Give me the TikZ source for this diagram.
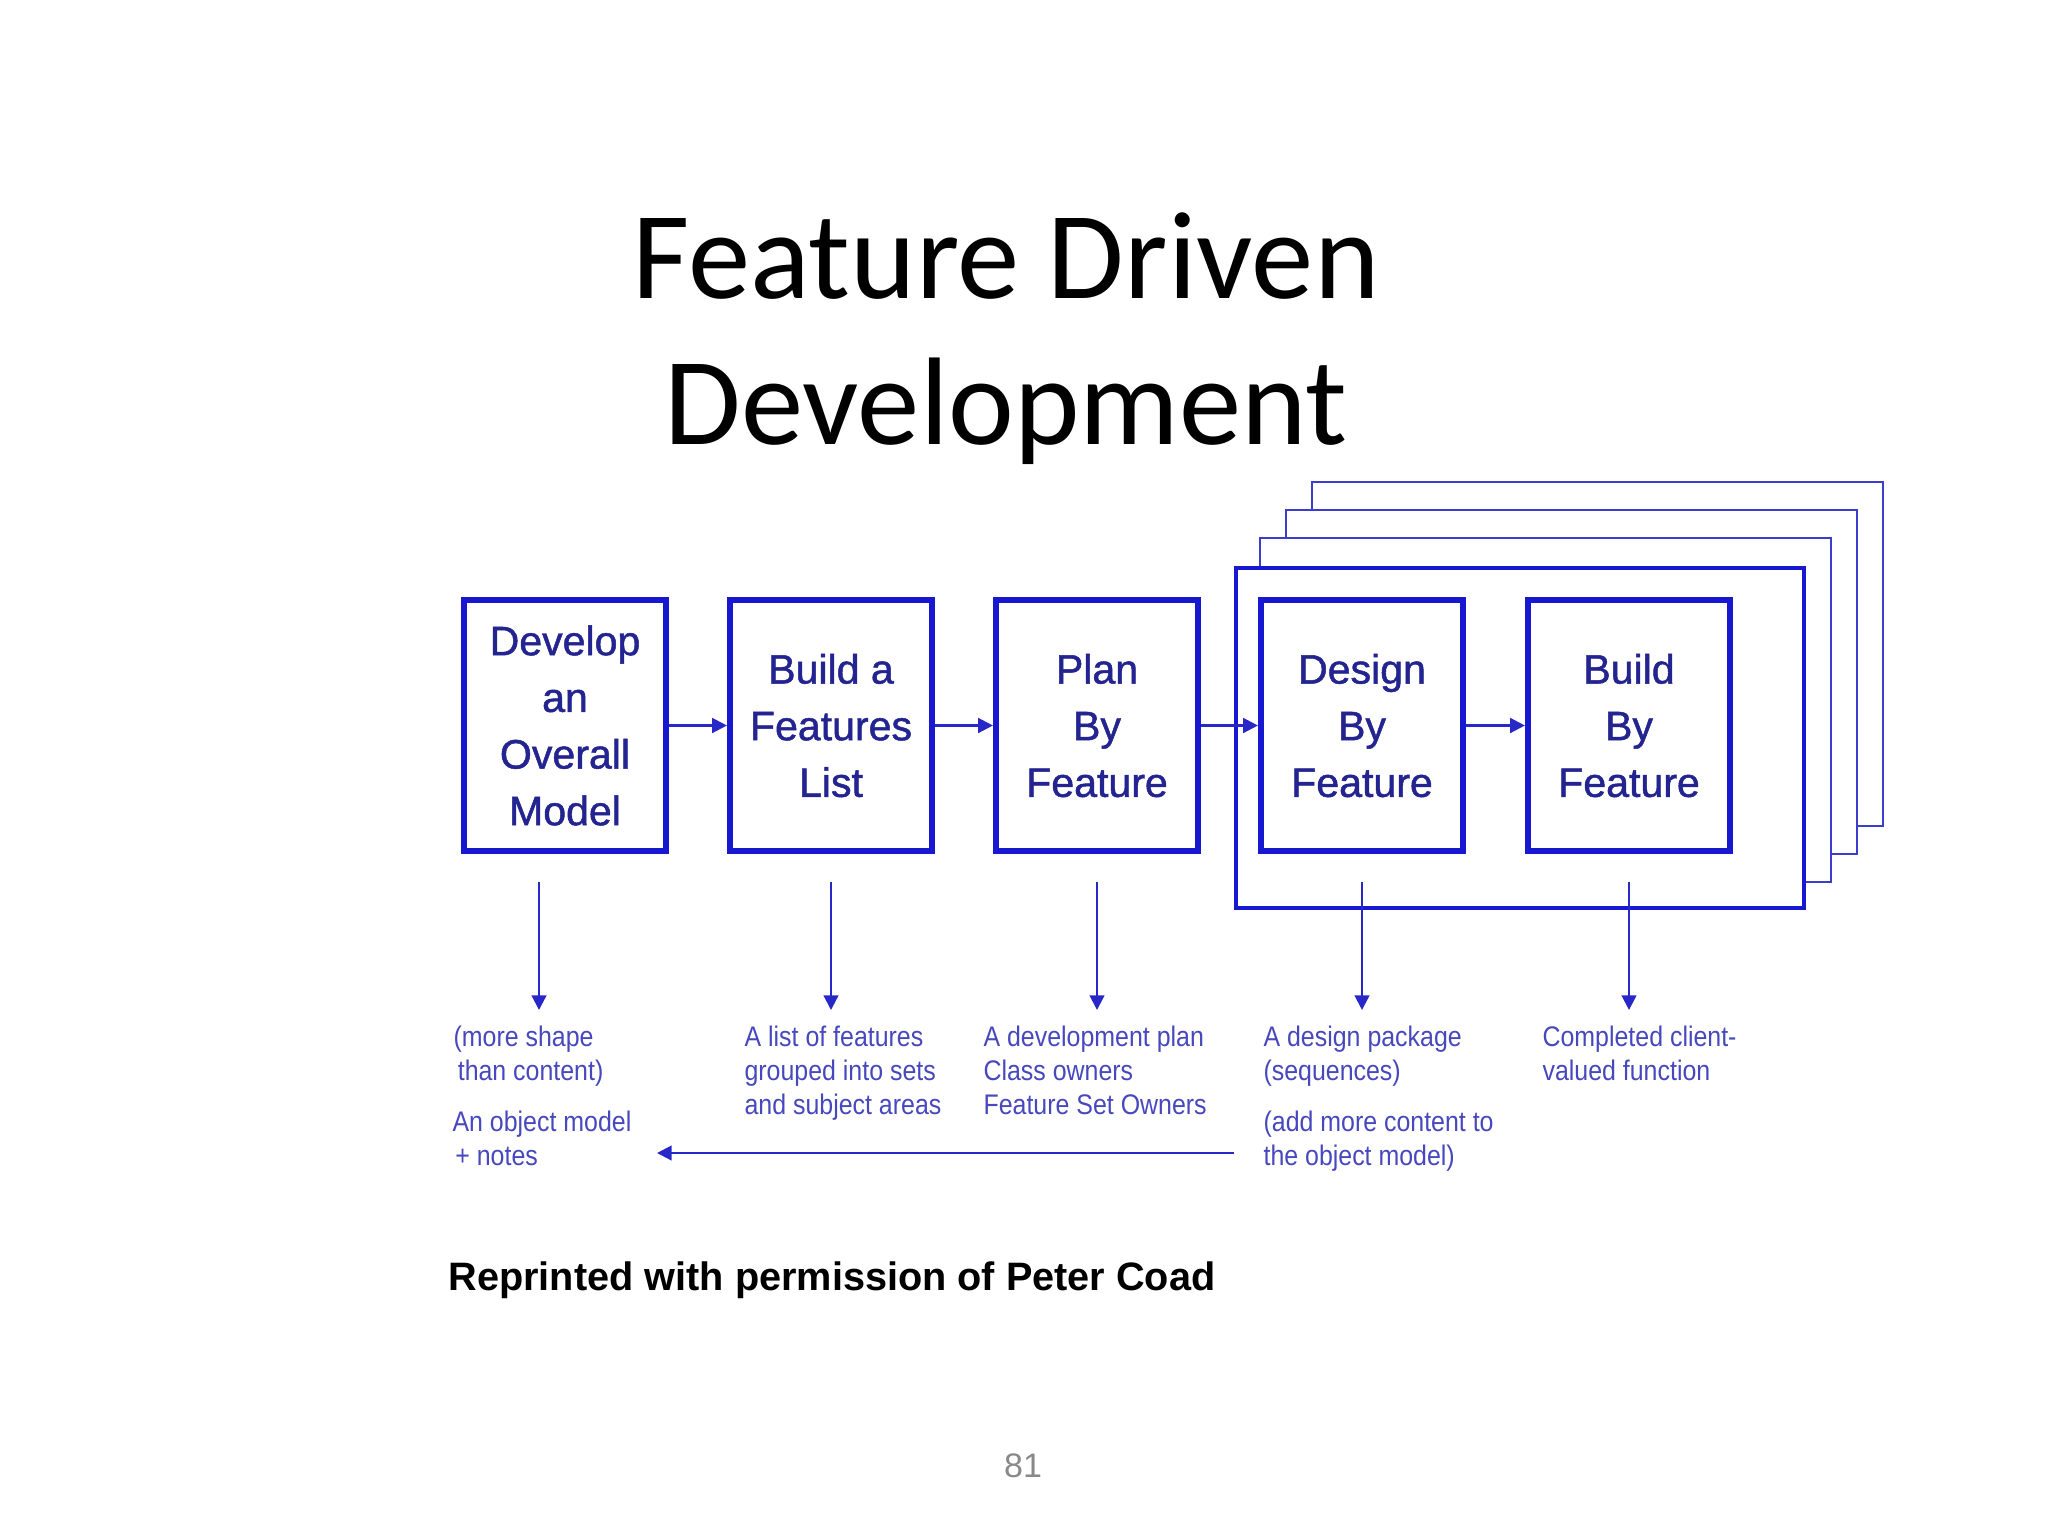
\documentclass[tikz,border=0pt]{standalone}
\usepackage{fontspec}
\setmainfont{Liberation Sans}
\newfontfamily\titlefont{Carlito}
\newfontfamily\boxfont{Liberation Sans}[FakeBold=1.2]
\usepackage{graphicx}
\usetikzlibrary{arrows.meta}
\definecolor{boxblue}{RGB}{24,24,208}
\definecolor{boxtext}{RGB}{36,36,145}
\definecolor{annot}{RGB}{72,72,190}
\definecolor{linkblue}{RGB}{40,40,200}
\definecolor{backblue}{RGB}{60,60,205}
\definecolor{pagegray}{RGB}{137,137,137}
\newcommand{\nw}[1]{\scalebox{0.88}[1]{#1}}
\begin{document}
\begin{tikzpicture}[x=0.0124023cm, y=-0.0124023cm,
  stepbox/.style={draw=boxblue, line width=2.2pt, fill=white,
    minimum width=2.505cm, minimum height=3.113cm, inner sep=0pt,
    align=center, text=boxtext, font=\boxfont\fontsize{14.5}{20}\selectfont},
  arr/.style={draw=linkblue, line width=0.8pt, -{Triangle[length=5.2pt,width=5.2pt]}},
  vdown/.style={arr, shorten <=0.35cm},
  note/.style={anchor=north west, inner sep=0pt, align=left, text=annot,
    font=\fontsize{10}{12}\selectfont},
  backframe/.style={draw=backblue, line width=0.9pt, fill=white},
  frontframe/.style={draw=boxblue, line width=1.4pt, fill=white},
  titletext/.style={anchor=base, inner sep=0pt, font=\titlefont\fontsize{44}{52}\selectfont}
]
\useasboundingbox (0,0) rectangle (2048,1536);
\fill[white] (0,0) rectangle (2048,1536);

% title
\node[titletext] (t1) at (1006,298) {Feature Driven};
\node[titletext] (t2) at (1006,444) {Development};

% stacked frames
\draw[backframe] (1312,482) rectangle (1883,826);
\draw[backframe] (1286,510) rectangle (1857,854);
\draw[backframe] (1260,538) rectangle (1831,882);
\draw[frontframe] (1236,568) rectangle (1804,908);

% process boxes
\node[stepbox] (b1) at (565,725.5) {Develop\\an\\Overall\\Model};
\node[stepbox] (b2) at (831,725.5) {Build a\\Features\\List};
\node[stepbox] (b3) at (1097,725.5) {Plan\\By\\Feature};
\node[stepbox] (b4) at (1362,725.5) {Design\\By\\Feature};
\node[stepbox] (b5) at (1629,725.5) {Build\\By\\Feature};

% horizontal connectors
\draw[arr] (b1) -- (b2);
\draw[arr] (b2) -- (b3);
\draw[arr] (b3) -- (b4);
\draw[arr] (b4) -- (b5);

% vertical connectors
\coordinate (lvl) at (0,1010);
\coordinate (e1) at (539,1010);
\draw[vdown] (b1.south -| e1) -- (e1);
\draw[vdown] (b2.south) -- (b2.south |- lvl);
\draw[vdown] (b3.south) -- (b3.south |- lvl);
\draw[vdown] (b4.south) -- (b4.south |- lvl);
\draw[vdown] (b5.south) -- (b5.south |- lvl);

% annotations
\node[note] (n1) at (453,1025.5) {\nw{(more shape}\\\hspace{1.5pt}\nw{than content)}};
\node[note] (n1b) at (452,1110.5) {\nw{An object model}\\\hspace{1pt}\nw{+ notes}};
\node[note] (n2) at (744,1025.5) {\nw{A list of features}\\\nw{grouped into sets}\\\nw{and subject areas}};
\node[note] (n3) at (983,1025.5) {\nw{A development plan}\\\nw{Class owners}\\\nw{Feature Set Owners}};
\node[note] (n4) at (1263,1025.5) {\nw{A design package}\\\nw{(sequences)}};
\node[note] (n4b) at (1263,1110.5) {\nw{(add more content to}\\\nw{the object model)}};
\node[note] (n5) at (1542,1025.5) {\nw{Completed client-}\\\nw{valued function}};

% return connector
\coordinate (retstart) at (1234,1153);
\coordinate (retend) at (657,1153);
\draw[arr] (retstart) -- (retend);

% credit and page number
\node[anchor=base west, inner sep=0pt, font=\bfseries\fontsize{14}{17}\selectfont] (credit) at (448,1290) {Reprinted with permission of Peter Coad};
\node[anchor=base, inner sep=0pt, text=pagegray, font=\fontsize{12}{14}\selectfont] (pg) at (1023,1477) {81};
\end{tikzpicture}
\end{document}
